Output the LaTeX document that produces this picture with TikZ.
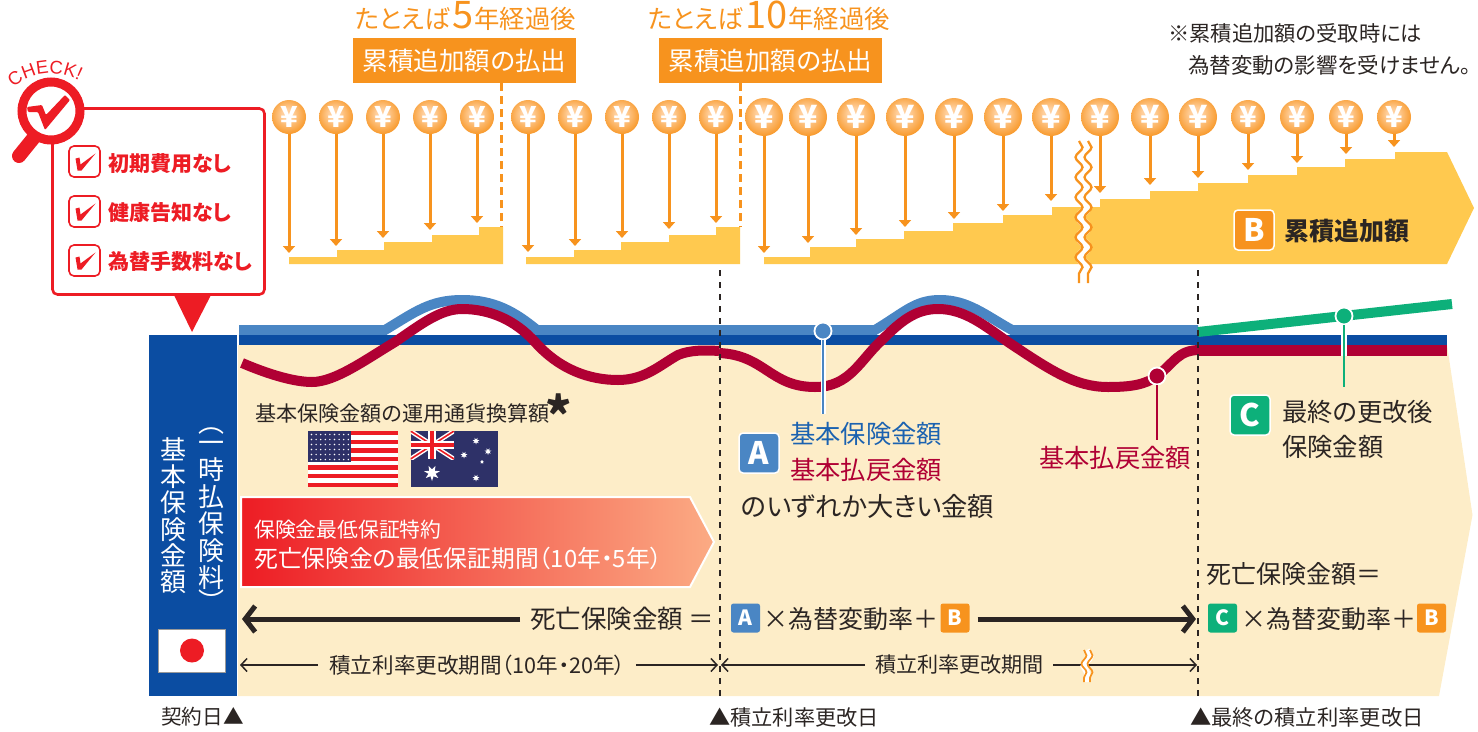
\documentclass[tikz,border=0pt]{standalone}
\usepackage{fontspec}
\setmainfont[RawFeature=+palt]{Noto Sans CJK JP}
\newfontfamily\latinfont{Liberation Sans}
\usetikzlibrary{arrows.meta,decorations.pathmorphing,decorations.text,calc}
\definecolor{orng}{HTML}{F7931E}
\definecolor{orngl}{HTML}{FFCF9C}
\definecolor{yel}{HTML}{FFC94F}
\definecolor{beige}{HTML}{FDEDC8}
\definecolor{dblue}{HTML}{0B4DA2}
\definecolor{lblue}{HTML}{4A86C4}
\definecolor{tblue}{HTML}{1B62B0}
\definecolor{crim}{HTML}{B00034}
\definecolor{rd}{HTML}{ED1C24}
\definecolor{grn}{HTML}{0DB07A}
\definecolor{ink}{HTML}{2B2523}
\definecolor{navy}{HTML}{2E3168}
\pgfdeclareradialshading{coinshade}{\pgfpoint{-3bp}{5bp}}{color(0bp)=(orngl);color(8bp)=(orngl);color(30bp)=(orng);color(60bp)=(orng)}
\newcommand\fz[1]{\fontsize{#1}{#1}\selectfont}
\tikzset{
  txt/.style={inner sep=0pt,anchor=west,text=ink},
  coinS/.style={circle,minimum size=34pt,inner sep=0pt,shading=coinshade,text=white,font=\fz{29}\bfseries},
  coinL/.style={coinS,minimum size=38pt,font=\fz{32}\bfseries},
  yarrow/.style={orng,line width=3pt,-{Triangle[width=12pt,length=7pt]}},
  badgeL/.style={rounded corners=4pt,minimum size=40pt,inner sep=0pt,text=white,draw=white,line width=1.5pt,font=\fz{31}\bfseries},
  badgeS/.style={rounded corners=2.5pt,minimum size=29pt,inner sep=0pt,text=white,font=\fz{21}\bfseries},
  thin arrow/.style={ink,line width=1.5pt,-{Straight Barb[length=6pt,width=13pt]}},
  thick arrow/.style={ink,line width=5pt,-{Straight Barb[length=10pt,width=26pt]}},
  vdash/.style={ink,line width=2.2pt,dash pattern=on 6pt off 6pt},
  odash/.style={orng,line width=3pt,dash pattern=on 8pt off 5pt},
  wave/.style={decorate,decoration={snake,segment length=20pt,amplitude=3.5pt}},
  marker/.style={circle,minimum size=17pt,inner sep=0pt,draw=white,line width=1.8pt},
  chkbox/.style={draw=rd,fill=white,rounded corners=5pt,line width=1.6pt,minimum size=31pt,inner sep=0pt},
}
\newcommand\coin[4]{% style,name,x,tipy
  \node[#1] (#2) at (#3,117) {¥};
  \coordinate (#2t) at (#3,#4);
  \draw[yarrow] (#2) -- (#2t);
}
\newcommand\chk[4]{% name,y,texty,text
  \node[chkbox] (#1) at (84.5,#2) {};
  \fill[rd] ($(#1)+(-9,-3)$) -- ($(#1)+(-5,-4)$) -- ($(#1)+(-4,3)$) -- ($(#1)+(11,-8)$) -- ($(#1)+(-3,9)$) -- ($(#1)+(-7,9)$) -- cycle;
  \node[txt,text=rd,font=\fz{21}\bfseries] (#1t) at (108,#3) {#4};
}
\newcommand\austar[3]{%
  \fill[white,shift={(#1,#2)}] plot[samples at={0,...,13},variable=\t] ({(mod(\t,2)==0?#3:#3*0.45)*sin(\t*360/14)},{(mod(\t,2)==0?#3:#3*0.45)*cos(\t*360/14)}) -- cycle;
}
\begin{document}
\begin{tikzpicture}[x=1pt,y=-1pt]
\useasboundingbox (0,0) rectangle (1478,731);

% --- beige field
\fill[beige] (238,345) -- (1447,345) -- (1472.5,515) -- (1439,696) -- (238,696) -- cycle;

% --- yellow stairs
\fill[yel] (289,264) -- (289,257) -- (337,257) -- (337,250) -- (384,250) -- (384,242) -- (432,242) -- (432,235) -- (479,235) -- (479,227) -- (503,227) -- (503,264) -- cycle;
\fill[yel] (526,264) -- (526,257) -- (574,257) -- (574,250) -- (621,250) -- (621,242) -- (669,242) -- (669,235) -- (716,235) -- (716,227) -- (740,227) -- (740,264) -- cycle;
\fill[yel] (764,264) -- (764,257) -- (810,257) -- (810,247) -- (856,247) -- (856,239) -- (904,239) -- (904,231) -- (953,231) -- (953,223) -- (1003,223) -- (1003,215) -- (1052,215) -- (1052,207) -- (1100,207) -- (1100,199) -- (1150,199) -- (1150,191) -- (1198,191) -- (1198,183) -- (1248,183) -- (1248,175) -- (1297,175) -- (1297,167) -- (1345,167) -- (1345,159) -- (1395,159) -- (1395,152) -- (1447,152) -- (1474,208) -- (1447,264) -- cycle;

% --- orange boxes and headings
\node[txt,anchor=base west,text=orng,font=\fz{25.4}] (h5) at (355,28) {たとえば\hspace{2pt}{\fz{38}5}\hspace{1pt}年経過後};
\node[txt,anchor=base west,text=orng,font=\fz{25.4}] (h10) at (648,28) {たとえば\hspace{2pt}{\fz{38}10}\hspace{1pt}年経過後};
\node[fill=orng,text=white,font=\fz{25.5},minimum width=223pt,minimum height=45pt,inner sep=0pt] (p5) at (464.5,60.5) {累積追加額の払出};
\node[fill=orng,text=white,font=\fz{25.5},minimum width=223pt,minimum height=45pt,inner sep=0pt] (p10) at (770.5,60.5) {累積追加額の払出};
\coordinate (d5a) at (501,83); \coordinate (d5b) at (501,227);
\coordinate (d10a) at (740,83); \coordinate (d10b) at (740,227);
\draw[odash] (d5a) -- (d5b);
\draw[odash] (d10a) -- (d10b);

% --- coins
\coin{coinS}{c1}{289}{253}
\coin{coinS}{c2}{336}{246}
\coin{coinS}{c3}{383}{238}
\coin{coinS}{c4}{430}{230}
\coin{coinS}{c5}{477}{223}
\coin{coinS}{c6}{528}{252}
\coin{coinS}{c7}{575}{246}
\coin{coinS}{c8}{622}{238}
\coin{coinS}{c9}{669}{229}
\coin{coinS}{c10}{716}{223}
\coin{coinL}{c11}{764}{253}
\coin{coinL}{c12}{808}{243}
\coin{coinL}{c13}{856}{235}
\coin{coinL}{c14}{905}{227}
\coin{coinL}{c15}{954}{219}
\coin{coinL}{c16}{1003}{211}
\coin{coinL}{c17}{1051}{201}
\coin{coinL}{c18}{1100}{193}
\coin{coinL}{c19}{1150}{185}
\coin{coinL}{c20}{1198}{178}
\coin{coinS}{c21}{1248}{170}
\coin{coinS}{c22}{1297}{163}
\coin{coinS}{c23}{1346}{154}
\coin{coinS}{c24}{1394}{147}

% --- wavy break
\coordinate (wa) at (1083.5,141); \coordinate (wb) at (1083.5,283);
\draw[white,line width=9pt,wave] (wa) -- (wb);
\draw[orng,line width=2.3pt,wave] ($(wa)+(-4.5,0)$) -- ($(wb)+(-4.5,0)$);
\draw[orng,line width=2.3pt,wave] ($(wa)+(4.5,0)$) -- ($(wb)+(4.5,0)$);

% --- B label
\node[badgeL,fill=orng] (bB) at (1254,230) {B};
\node[txt,font=\fz{25}\bfseries] (bBt) at (1284,231) {累積追加額};

% --- note
\node[txt,font=\fz{21.3}] (n1) at (1168,33) {※累積追加額の受取時には};
\node[txt,font=\fz{21.5}] (n2) at (1188,65) {為替変動の影響を受けません。};

% --- blue bands
\draw[lblue,line width=10pt] (239,330) -- (385,330) .. controls (415,312) and (430,300) .. (462,300) .. controls (495,300) and (515,312) .. (537,330) -- (875,330) .. controls (905,312) and (915,300) .. (940,300) .. controls (968,300) and (985,315) .. (1012,330) -- (1198,330);
\fill[dblue] (239,334.5) rectangle (1447,345);
\fill[crim] (1198,345) rectangle (1447,356);
\draw[grn,line width=10pt] (1198,332) -- (1452,304);

% --- red curve
\draw[crim,line width=10pt] (242,363) .. controls (270,375) and (295,382) .. (312,382) .. controls (335,382) and (365,360) .. (395,342) .. controls (420,325) and (440,309) .. (462,309) .. controls (490,309) and (515,320) .. (535,342) .. controls (560,370) and (590,380) .. (618,380) .. controls (645,380) and (660,365) .. (678,355) .. controls (690,350) and (705,350) .. (719,351);
\draw[crim,line width=10pt] (719,353) .. controls (765,355) and (770,387) .. (815,387) .. controls (850,387) and (860,360) .. (882,340) .. controls (900,322) and (915,309) .. (938,309) .. controls (965,309) and (985,326) .. (1008,342) .. controls (1050,370) and (1075,387) .. (1108,387) .. controls (1130,387) and (1145,385) .. (1157,376) .. controls (1175,362) and (1178,350) .. (1200,350);

% --- dashed verticals
\coordinate (v1a) at (720,270); \coordinate (v1b) at (720,696);
\coordinate (v2a) at (1198,270); \coordinate (v2b) at (1198,696);
\draw[vdash] (v1a) -- (v1b);
\draw[vdash] (v2a) -- (v2b);

% --- markers
\node[marker,fill=lblue] (mA) at (823,331) {};
\coordinate (mAe) at (823,414);
\draw[white,line width=5pt] (mA) -- (mAe);
\draw[lblue,line width=2.5pt] (mA) -- (mAe);
\node[marker,fill=crim] (mR) at (1157,376) {};
\coordinate (mRe) at (1157,440);
\draw[crim,line width=2.5pt] (mR) -- (mRe);
\node[marker,fill=grn] (mG) at (1344,316) {};
\coordinate (mGe) at (1344,387);
\draw[white,line width=6pt] (mG) -- (1344,356);
\draw[grn,line width=2.5pt] (mG) -- (mGe);

% --- main bar
\fill[dblue] (149,335) rectangle (237,696);
\node[inner sep=0pt,text=white,align=center,font=\fontsize{26}{26.4}\selectfont] (vt1) at (173,516) {基\\本\\保\\険\\金\\額};
\node[inner sep=0pt,text=white,font=\fz{26}] (vp1) at (211,431) {︵};
\node[inner sep=0pt,text=white,align=center,font=\fontsize{26}{27}\selectfont] (vt2) at (211,515.5) {一\\時\\払\\保\\険\\料};
\node[inner sep=0pt,text=white,font=\fz{26}] (vp2) at (211,601) {︶};
\node[fill=white,draw=black!40,line width=.8pt,minimum width=67pt,minimum height=43pt,inner sep=0pt] (jp) at (192,650.5) {};
\fill[rd] (jp.center) circle (12);

% --- currency text and flags
\node[txt,font=\fz{21.1}] (cur) at (255,413) {基本保険金額の運用通貨換算額};
\node[inner sep=0pt,text=ink,font=\fz{50}\bfseries] (star) at (559,414) {*};
\fill[white] (308,431) rectangle (398,487);
\foreach \i in {0,2,...,12} \fill[rd] (308,{431+\i*4.31}) rectangle (398,{431+(\i+1)*4.31});
\fill[navy] (308,431) rectangle (351,462);
\foreach \a in {0,...,8} \foreach \b in {0,...,5} \fill[white] ({311.5+\a*4.6},{434.5+\b*5}) circle (.8);
\fill[navy] (410.5,431) rectangle (497.5,487);
\begin{scope}
\clip (410.5,431) rectangle (454,459);
\draw[white,line width=4.5pt] (410.5,431) -- (454,459) (410.5,459) -- (454,431);
\draw[rd,line width=1.6pt] (410.5,431) -- (454,459) (410.5,459) -- (454,431);
\draw[white,line width=8pt] (432,431) -- (432,459) (410.5,445) -- (454,445);
\draw[rd,line width=4.5pt] (432,431) -- (432,459) (410.5,445) -- (454,445);
\end{scope}
\austar{432}{473}{8}
\austar{476}{441}{3.5}
\austar{464}{455}{3.5}
\austar{488}{451.5}{3.5}
\austar{476}{478}{3.5}
\austar{482}{462}{2}

% --- red gradient arrow
\shade[left color=rd,right color=rd!20!orngl,draw=white,line width=2pt] (241,497) -- (690,497) -- (714,542) -- (690,587) -- (241,587) -- cycle;
\node[txt,text=white,font=\fz{20.8}] (r1) at (254,530) {保険金最低保証特約};
\node[txt,text=white,font=\fz{23.8}] (r2) at (254,558) {死亡保険金の最低保証期間（10年・5年）};

% --- A block
\node[badgeL,fill=lblue] (bA) at (759,453) {A};
\node[txt,text=tblue,font=\fz{25.3}] (a1) at (790,434) {基本保険金額};
\node[txt,text=crim,font=\fz{25.3}] (a2) at (790,470) {基本払戻金額};
\node[txt,font=\fz{26.3}] (a3) at (741,507) {のいずれか大きい金額};
\node[txt,text=crim,font=\fz{25.3}] (a4) at (1039,458) {基本払戻金額};
\node[badgeL,fill=grn] (bC) at (1250,415) {C};
\node[txt,font=\fz{25.3}] (c1) at (1282,412) {最終の更改後};
\node[txt,font=\fz{25.3}] (c2) at (1282,447) {保険金額};

% --- formula rows
\coordinate (fl) at (242,619);
\node[txt,font=\fz{25.5}] (f1) at (530,619) {死亡保険金額 ＝};
\draw[thick arrow] (f1.west) ++(-10,0) -- (fl);
\node[badgeS,fill=lblue] (fA) at (745.5,618) {A};
\node[txt,font=\fz{25}] (f2) at (763,619) {×為替変動率＋};
\node[badgeS,fill=orng] (fB) at (955,618) {B};
\coordinate (fr) at (1196,619);
\draw[thick arrow] (fB.east) ++(8,1) -- (fr);
\node[txt,font=\fz{25}] (g1) at (1206,574) {死亡保険金額＝};
\node[badgeS,fill=grn] (gC) at (1222.5,618) {C};
\node[txt,font=\fz{25}] (g2) at (1241,619) {×為替変動率＋};
\node[badgeS,fill=orng] (gB) at (1431.5,618) {B};

% --- period arrows
\node[txt,font=\fz{21.6}] (t1) at (329,665) {積立利率更改期間（10年・20年）};
\node[txt,font=\fz{21.1}] (t2) at (875,665) {積立利率更改期間};
\coordinate (ta) at (240,665); \coordinate (tb) at (718,665);
\coordinate (tc) at (721,665); \coordinate (td) at (1197,665);
\draw[thin arrow] (t1.west) ++(-11,0) -- (ta);
\draw[thin arrow] (t1.east) ++(10,0) -- (tb);
\draw[thin arrow] (t2.west) ++(-10,0) -- (tc);
\draw[thin arrow] (t2.east) ++(9,0) -- (td);
\coordinate (ua) at (1087,650); \coordinate (ub) at (1087,682);
\draw[white,line width=6pt,wave] (ua) -- (ub);
\draw[orng,line width=1.7pt,decorate,decoration={snake,segment length=17pt,amplitude=2.5pt}] ($(ua)+(-3,0)$) -- ($(ub)+(-3,0)$);
\draw[orng,line width=1.7pt,decorate,decoration={snake,segment length=17pt,amplitude=2.5pt}] ($(ua)+(3,0)$) -- ($(ub)+(3,0)$);

% --- bottom labels
\node[txt,font=\fz{20.6}] (e1) at (161,717) {契約日▲};
\node[txt,font=\fz{21.2}] (e2) at (709,717) {▲積立利率更改日};
\node[txt,font=\fz{21.3}] (e3) at (1190,717) {▲最終の積立利率更改日};

% --- callout
\fill[rd] (173,293) -- (212,293) -- (192,332) -- cycle;
\node[draw=rd,fill=white,rounded corners=5pt,line width=2.6pt,minimum width=212pt,minimum height=186pt,inner sep=0pt] (call) at (158.5,201.5) {};
\chk{k1}{161.5}{164}{初期費用なし}
\chk{k2}{211.5}{213}{健康告知なし}
\chk{k3}{260.5}{262}{為替手数料なし}
% magnifier
\coordinate (ha) at (36,135); \coordinate (hb) at (19,156);
\draw[rd,line width=14pt,line cap=round] (ha) -- (hb);
\node[circle,draw=rd,fill=white,line width=9pt,minimum size=58pt,inner sep=0pt] (lens) at (51,111) {};
\fill[rd,rounded corners=1pt] (27,107) -- (42,105) -- (46,115) -- (65,95) -- (70,100) -- (45,130) -- (38,112) -- (28,112) -- cycle;
\path[decorate,decoration={text along path,text align=center,text={|\latinfont\fz{18.5}\color{rd}|CHECK!}}] (10,92) .. controls (25,72) and (58,67) .. (84,83);
\end{tikzpicture}
\end{document}
